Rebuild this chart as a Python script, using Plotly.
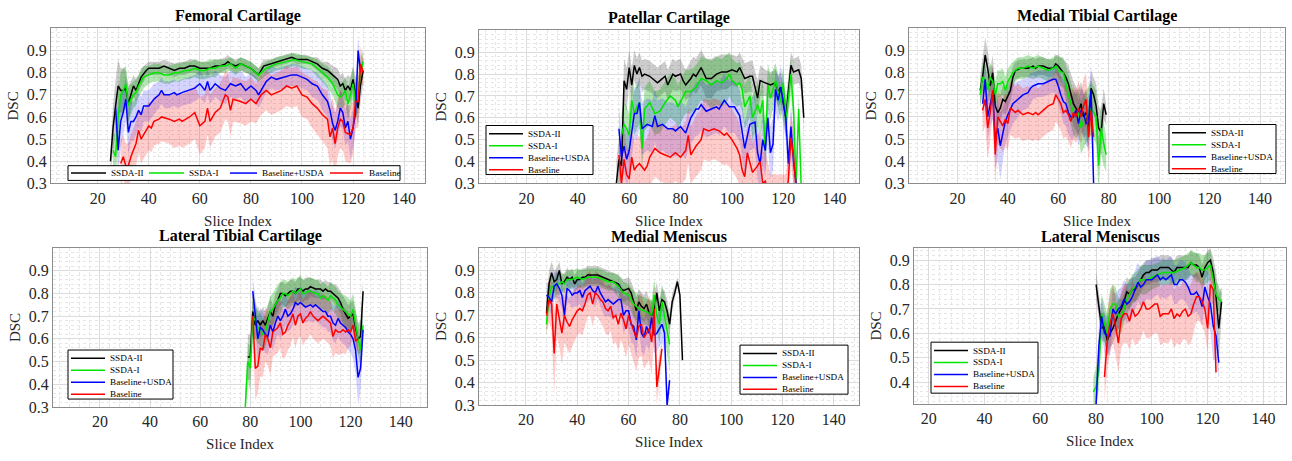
import plotly.graph_objects as go

NAMES = ["SSDA-II", "SSDA-I", "Baseline+USDA", "Baseline"]
TITLES = ["Femoral Cartilage", "Patellar Cartilage", "Medial Tibial Cartilage",
          "Lateral Tibial Cartilage", "Medial Meniscus", "Lateral Meniscus"]
X_TICKS = [20, 40, 60, 80, 100, 120, 140]
Y_TICKS = [0.3, 0.4, 0.5, 0.6, 0.7, 0.8, 0.9]

# (slice index, mean DSC, std) per series
FC_SSDA2 = [(25,.40,.05),(26,.55,.10),(27,.65,.12),(28,.74,.12),(29,.72,.10),(30,.72,.10),(31,.73,.08),(32,.66,.08),(33,.70,.06),(34,.74,.05),(35,.72,.05),(36,.75,.04),(37,.78,.04),(39,.81,.03),(40,.82,.03),(42,.82,.03),(44,.82,.03),(46,.83,.03),(48,.82,.03),(50,.81,.03),(52,.82,.03),(54,.82,.03),(56,.83,.03),(58,.83,.03),(60,.82,.03),(62,.82,.03),(64,.82,.03),(66,.83,.03),(68,.83,.03),(70,.84,.03),(71,.85,.03),(72,.84,.03),(74,.83,.03),(76,.84,.03),(78,.83,.03),(80,.82,.03),(82,.80,.03),(83,.79,.03),(85,.83,.03),(88,.84,.02),(90,.85,.02),(93,.86,.02),(96,.87,.02),(98,.86,.02),(100,.86,.02),(102,.86,.02),(104,.85,.02),(106,.84,.03),(108,.82,.03),(110,.81,.04),(112,.79,.04),(114,.77,.05),(115,.74,.05),(116,.75,.05),(117,.72,.05),(118,.74,.05),(119,.72,.06),(120,.77,.06),(121,.70,.08),(122,.64,.08),(123,.75,.08),(124,.81,.06)]
FC_SSDA1 = [(26,.45,.08),(27,.42,.10),(28,.60,.12),(29,.70,.10),(30,.72,.10),(31,.75,.08),(32,.65,.08),(33,.68,.07),(34,.70,.06),(35,.71,.06),(36,.74,.05),(38,.78,.05),(40,.79,.04),(42,.80,.04),(44,.80,.04),(46,.79,.04),(48,.79,.04),(50,.80,.04),(52,.80,.04),(54,.81,.04),(56,.81,.04),(58,.82,.04),(60,.81,.04),(62,.81,.04),(64,.82,.04),(66,.82,.04),(68,.83,.03),(70,.83,.03),(72,.84,.03),(74,.82,.03),(76,.84,.03),(78,.83,.03),(80,.82,.03),(82,.80,.03),(83,.79,.03),(86,.82,.03),(90,.84,.03),(94,.85,.03),(97,.86,.03),(100,.85,.03),(104,.84,.03),(106,.82,.04),(108,.80,.04),(110,.78,.05),(112,.75,.05),(114,.70,.06),(115,.69,.06),(116,.70,.06),(117,.72,.06),(118,.66,.07),(119,.70,.07),(120,.75,.07),(121,.67,.08),(122,.70,.08),(123,.80,.07),(124,.85,.05)]
FC_USDA = [(27,.64,.10),(28,.45,.12),(29,.58,.12),(30,.62,.10),(31,.68,.10),(32,.53,.10),(33,.58,.09),(34,.58,.09),(35,.60,.08),(36,.63,.08),(37,.61,.08),(38,.65,.07),(40,.65,.07),(42,.68,.07),(44,.70,.06),(45,.72,.06),(46,.70,.06),(48,.70,.06),(50,.71,.06),(51,.70,.06),(53,.71,.06),(56,.72,.06),(58,.73,.06),(60,.75,.06),(62,.72,.06),(63,.76,.06),(64,.72,.06),(66,.75,.06),(68,.73,.06),(70,.72,.06),(72,.75,.06),(74,.74,.06),(76,.75,.06),(78,.72,.06),(80,.74,.06),(82,.72,.06),(83,.70,.06),(86,.76,.05),(88,.78,.05),(90,.77,.05),(93,.78,.05),(96,.79,.05),(98,.79,.05),(100,.78,.05),(102,.77,.05),(104,.75,.06),(106,.74,.06),(108,.70,.07),(110,.67,.07),(111,.63,.08),(112,.57,.08),(113,.54,.08),(114,.58,.08),(115,.64,.08),(116,.62,.08),(117,.55,.08),(118,.58,.09),(119,.50,.09),(120,.55,.09),(121,.62,.09),(122,.90,.06),(123,.80,.06)]
FC_BASE = [(29,.39,.10),(30,.42,.10),(31,.38,.10),(32,.38,.10),(33,.42,.10),(34,.45,.10),(35,.48,.10),(36,.54,.10),(37,.50,.11),(38,.52,.11),(40,.56,.11),(41,.55,.11),(42,.58,.11),(44,.59,.11),(45,.60,.11),(48,.59,.11),(50,.58,.12),(52,.59,.12),(53,.58,.12),(56,.60,.12),(58,.62,.12),(60,.56,.13),(62,.58,.12),(63,.64,.12),(64,.58,.12),(66,.62,.11),(68,.64,.11),(70,.70,.11),(71,.69,.11),(72,.63,.12),(73,.68,.10),(76,.67,.10),(78,.66,.10),(80,.68,.10),(82,.66,.09),(84,.70,.09),(86,.72,.09),(88,.70,.09),(90,.71,.09),(92,.72,.09),(94,.74,.09),(96,.73,.09),(98,.74,.09),(100,.70,.10),(102,.69,.10),(104,.66,.11),(106,.64,.12),(108,.61,.12),(110,.59,.13),(111,.51,.13),(112,.55,.14),(113,.48,.14),(114,.55,.13),(115,.59,.13),(116,.58,.13),(117,.53,.13),(119,.52,.13),(120,.55,.12),(121,.67,.12),(122,.67,.12),(123,.84,.08),(124,.80,.06)]

PC_SSDA2 = [(55,.30,.10),(56,.41,.10),(57,.38,.10),(58,.77,.10),(59,.73,.10),(60,.83,.08),(61,.75,.08),(62,.84,.07),(63,.80,.07),(64,.83,.07),(65,.79,.07),(66,.80,.07),(68,.79,.07),(70,.77,.07),(71,.76,.07),(72,.77,.07),(74,.79,.07),(75,.75,.07),(77,.80,.07),(78,.79,.07),(80,.80,.07),(81,.77,.07),(82,.75,.07),(84,.78,.08),(85,.80,.08),(86,.79,.08),(88,.83,.08),(90,.78,.09),(92,.78,.09),(94,.80,.08),(96,.81,.08),(98,.81,.08),(100,.82,.07),(102,.81,.07),(103,.83,.07),(105,.78,.07),(107,.79,.07),(108,.79,.07),(110,.69,.08),(111,.77,.07),(113,.76,.06),(115,.75,.06),(117,.76,.06),(118,.72,.07),(119,.74,.07),(121,.60,.08),(123,.84,.06),(124,.81,.06),(126,.82,.06),(127,.78,.06),(128,.60,.06)]
PC_SSDA1 = [(57,.52,.10),(58,.57,.10),(59,.55,.10),(60,.52,.10),(61,.68,.10),(62,.62,.10),(63,.65,.10),(64,.67,.10),(65,.46,.10),(66,.64,.10),(68,.67,.10),(70,.62,.10),(72,.63,.10),(74,.67,.10),(76,.70,.10),(78,.68,.10),(79,.65,.10),(81,.70,.10),(82,.72,.10),(84,.72,.10),(86,.74,.10),(88,.78,.10),(90,.77,.10),(92,.75,.11),(94,.77,.11),(96,.76,.11),(98,.78,.11),(99,.80,.10),(100,.77,.10),(102,.75,.10),(103,.76,.10),(104,.73,.10),(105,.65,.10),(107,.70,.10),(108,.60,.10),(110,.66,.10),(111,.62,.10),(112,.68,.10),(113,.45,.10),(114,.75,.10),(115,.69,.10),(117,.77,.08),(118,.72,.08),(119,.67,.08),(120,.76,.08),(121,.58,.08),(123,.80,.08),(124,.64,.08),(125,.30,.06),(126,.64,.06),(127,.28,.05)]
PC_USDA = [(56,.55,.10),(57,.42,.12),(58,.47,.12),(59,.41,.12),(60,.45,.12),(62,.62,.12),(63,.62,.12),(64,.67,.12),(65,.55,.12),(67,.57,.12),(69,.56,.12),(70,.61,.12),(71,.56,.12),(73,.57,.12),(75,.55,.12),(77,.55,.12),(78,.54,.12),(80,.56,.12),(82,.53,.12),(83,.57,.12),(84,.60,.12),(86,.64,.12),(87,.64,.12),(88,.66,.12),(90,.63,.12),(92,.64,.12),(94,.65,.12),(95,.64,.12),(97,.68,.12),(99,.65,.12),(101,.65,.12),(103,.61,.12),(105,.46,.12),(107,.57,.12),(109,.58,.12),(110,.44,.12),(111,.39,.12),(112,.50,.12),(113,.45,.12),(114,.60,.12),(115,.44,.12),(116,.48,.12),(117,.73,.10),(118,.68,.10),(119,.74,.10),(121,.60,.10),(122,.39,.10),(123,.56,.10),(124,.40,.10),(125,.30,.08)]
PC_BASE = [(56,.43,.12),(57,.30,.13),(58,.41,.13),(59,.34,.13),(60,.32,.13),(61,.42,.13),(62,.36,.13),(63,.38,.13),(64,.39,.13),(66,.36,.13),(67,.38,.13),(68,.42,.13),(70,.46,.13),(72,.44,.13),(74,.43,.13),(76,.42,.13),(78,.44,.13),(80,.42,.13),(82,.45,.13),(83,.52,.13),(84,.43,.13),(86,.47,.14),(88,.50,.14),(89,.55,.14),(91,.54,.14),(93,.55,.14),(95,.54,.14),(97,.52,.14),(98,.53,.14),(100,.50,.14),(102,.46,.14),(103,.43,.14),(104,.36,.14),(105,.33,.14),(106,.44,.14),(107,.40,.14),(108,.35,.14),(110,.38,.14),(111,.40,.14),(112,.30,.14),(113,.31,.14),(115,.22,.12),(121,.22,.12),(122,.32,.12),(123,.51,.12),(124,.42,.12),(125,.28,.10)]

MT_SSDA2 = [(29,.72,.06),(30,.78,.08),(31,.88,.08),(32,.82,.08),(33,.74,.08),(34,.80,.08),(35,.65,.08),(36,.62,.07),(37,.64,.06),(38,.68,.06),(39,.67,.06),(41,.72,.05),(42,.78,.05),(43,.81,.04),(45,.82,.04),(47,.82,.04),(48,.82,.04),(50,.83,.04),(51,.82,.04),(52,.83,.04),(54,.83,.04),(56,.82,.04),(58,.82,.04),(59,.84,.04),(60,.83,.05),(62,.80,.06),(63,.78,.07),(64,.75,.08),(65,.70,.09),(66,.66,.10),(67,.64,.10),(68,.62,.10),(69,.66,.10),(70,.60,.10),(71,.62,.10),(72,.55,.10),(73,.73,.08),(74,.70,.08),(75,.65,.10),(76,.55,.10),(77,.53,.10),(78,.66,.07),(79,.61,.05)]
MT_SSDA1 = [(29,.70,.06),(30,.78,.06),(31,.77,.06),(32,.72,.06),(33,.78,.06),(34,.76,.06),(35,.70,.06),(36,.75,.06),(37,.75,.06),(38,.76,.06),(39,.72,.06),(40,.76,.06),(42,.80,.05),(44,.82,.05),(46,.82,.05),(48,.83,.05),(50,.82,.05),(52,.83,.05),(54,.82,.05),(56,.81,.05),(58,.82,.05),(59,.83,.05),(60,.81,.06),(62,.80,.07),(63,.75,.08),(64,.70,.09),(66,.62,.10),(67,.60,.10),(68,.62,.10),(69,.55,.12),(70,.58,.12),(71,.60,.12),(73,.64,.12),(74,.62,.12),(75,.60,.12),(76,.38,.12),(77,.55,.12),(78,.48,.10),(79,.43,.08)]
MT_USDA = [(30,.66,.08),(31,.77,.08),(32,.60,.10),(33,.66,.10),(34,.71,.12),(35,.50,.14),(36,.55,.14),(37,.47,.15),(38,.52,.12),(39,.58,.10),(40,.61,.10),(42,.66,.09),(44,.68,.08),(46,.70,.07),(48,.71,.07),(49,.73,.07),(50,.74,.06),(52,.75,.06),(54,.75,.06),(56,.76,.06),(58,.77,.06),(59,.77,.07),(60,.74,.08),(61,.70,.09),(62,.67,.10),(63,.66,.10),(64,.62,.10),(65,.60,.10),(66,.60,.10),(67,.63,.10),(68,.57,.10),(69,.63,.10),(70,.62,.10),(71,.57,.10),(72,.58,.12),(73,.72,.12),(74,.30,.10)]
MT_BASE = [(30,.63,.10),(31,.68,.12),(32,.55,.14),(33,.62,.12),(34,.72,.12),(35,.43,.14),(36,.60,.12),(37,.58,.12),(38,.56,.12),(39,.59,.12),(40,.57,.12),(41,.64,.12),(43,.62,.12),(44,.63,.12),(46,.61,.12),(48,.62,.12),(50,.61,.12),(51,.62,.12),(52,.61,.12),(54,.63,.12),(56,.65,.12),(58,.66,.12),(59,.70,.12),(60,.68,.12),(61,.66,.12),(62,.62,.12),(63,.63,.12),(64,.61,.12),(65,.58,.12),(66,.62,.12),(67,.60,.12),(68,.64,.12),(69,.60,.12),(70,.65,.12),(71,.68,.12),(72,.51,.12),(73,.63,.10),(74,.51,.10)]

LT_SSDA2 = [(79,.52,.10),(80,.52,.10),(81,.72,.08),(82,.66,.06),(83,.68,.06),(84,.66,.06),(85,.68,.06),(86,.66,.06),(87,.69,.06),(88,.72,.06),(89,.70,.05),(90,.75,.05),(91,.77,.05),(92,.80,.05),(93,.80,.05),(94,.79,.05),(95,.80,.05),(96,.81,.05),(97,.81,.05),(98,.80,.05),(99,.82,.05),(100,.82,.05),(101,.81,.05),(102,.82,.05),(103,.82,.05),(104,.83,.04),(106,.82,.04),(108,.82,.04),(109,.81,.04),(110,.82,.04),(111,.81,.04),(112,.81,.04),(113,.80,.04),(114,.79,.05),(115,.78,.05),(116,.76,.05),(117,.73,.06),(118,.71,.06),(119,.69,.06),(120,.70,.06),(121,.71,.06),(122,.65,.07),(123,.60,.07),(124,.61,.07),(125,.81,.05)]
LT_SSDA1 = [(78,.30,.06),(79,.50,.08),(80,.47,.10),(81,.70,.10),(82,.68,.08),(83,.65,.07),(84,.64,.07),(85,.62,.07),(86,.63,.07),(87,.67,.07),(88,.72,.07),(89,.73,.07),(90,.75,.07),(91,.77,.07),(92,.78,.07),(93,.80,.06),(94,.80,.06),(95,.79,.06),(96,.80,.06),(97,.81,.06),(98,.80,.06),(99,.81,.06),(100,.82,.06),(101,.80,.06),(102,.80,.06),(103,.81,.06),(104,.81,.06),(106,.80,.06),(107,.80,.06),(108,.78,.06),(109,.79,.06),(110,.78,.06),(111,.77,.06),(112,.79,.06),(113,.78,.06),(114,.77,.06),(115,.75,.06),(116,.74,.06),(118,.72,.07),(120,.70,.07),(121,.73,.07),(122,.66,.07),(123,.60,.07),(124,.55,.07),(125,.66,.05)]
LT_USDA = [(81,.81,.06),(82,.70,.08),(83,.60,.10),(84,.65,.08),(85,.64,.08),(86,.62,.08),(87,.61,.08),(88,.66,.08),(89,.63,.08),(90,.67,.08),(91,.70,.08),(92,.68,.08),(93,.70,.08),(94,.73,.07),(95,.70,.07),(96,.71,.07),(97,.73,.07),(98,.76,.07),(99,.75,.07),(100,.76,.07),(101,.75,.07),(102,.74,.07),(104,.75,.07),(105,.74,.07),(106,.75,.07),(108,.73,.07),(109,.72,.07),(110,.72,.07),(111,.70,.07),(112,.70,.07),(113,.67,.08),(114,.66,.08),(115,.69,.08),(116,.67,.08),(117,.66,.08),(118,.65,.08),(119,.63,.08),(120,.62,.08),(121,.60,.09),(122,.55,.10),(123,.43,.12),(124,.47,.10),(125,.64,.06)]
LT_BASE = [(81,.70,.10),(82,.47,.14),(83,.48,.12),(84,.56,.12),(85,.55,.12),(86,.62,.12),(87,.60,.12),(88,.56,.12),(89,.63,.11),(90,.64,.11),(91,.65,.11),(92,.67,.11),(93,.62,.11),(94,.63,.11),(95,.66,.11),(96,.68,.11),(97,.71,.10),(98,.66,.10),(99,.70,.10),(100,.71,.10),(101,.67,.10),(102,.69,.10),(103,.70,.10),(104,.72,.10),(105,.70,.10),(106,.69,.10),(107,.68,.10),(108,.69,.10),(109,.70,.10),(110,.69,.10),(111,.68,.10),(112,.67,.10),(113,.61,.10),(114,.64,.10),(115,.63,.10),(116,.63,.10),(117,.64,.10),(118,.63,.10),(119,.64,.08),(120,.63,.06),(121,.66,.05),(122,.59,.05),(123,.60,.04)]

MM_SSDA2 = [(28,.71,.06),(29,.84,.06),(30,.89,.05),(31,.85,.05),(32,.86,.05),(33,.90,.04),(34,.84,.04),(35,.85,.04),(36,.87,.04),(37,.86,.04),(38,.87,.04),(39,.84,.04),(40,.86,.04),(41,.86,.04),(42,.87,.04),(43,.87,.04),(44,.88,.04),(46,.88,.04),(48,.88,.04),(50,.87,.04),(52,.86,.04),(54,.85,.04),(56,.84,.04),(57,.82,.05),(58,.81,.05),(60,.82,.05),(61,.80,.05),(62,.76,.06),(63,.72,.06),(64,.76,.06),(65,.74,.06),(66,.73,.06),(67,.75,.06),(68,.71,.06),(69,.70,.06),(70,.72,.06),(71,.80,.05),(72,.72,.05),(73,.77,.05),(74,.76,.05),(75,.72,.05),(76,.66,.05),(77,.76,.04),(78,.80,.03),(79,.85,.02),(80,.79,.02),(81,.50,.02)]
MM_SSDA1 = [(28,.66,.05),(29,.78,.05),(30,.83,.05),(31,.82,.05),(32,.84,.05),(33,.84,.05),(34,.85,.04),(35,.84,.04),(36,.86,.04),(38,.86,.04),(40,.87,.04),(42,.86,.04),(44,.87,.04),(46,.87,.04),(48,.87,.04),(50,.86,.04),(52,.85,.04),(54,.85,.04),(56,.83,.05),(58,.80,.05),(60,.79,.05),(62,.75,.06),(64,.73,.06),(66,.72,.06),(68,.71,.06),(69,.70,.07),(70,.79,.07),(71,.70,.07),(72,.66,.08),(73,.76,.08),(74,.70,.09),(75,.63,.10),(76,.57,.12)]
MM_USDA = [(28,.79,.06),(29,.78,.06),(30,.76,.06),(31,.83,.06),(32,.84,.06),(33,.82,.06),(34,.79,.06),(35,.70,.07),(36,.82,.06),(37,.81,.06),(38,.79,.06),(39,.80,.06),(40,.80,.06),(41,.81,.06),(42,.78,.06),(43,.81,.06),(44,.82,.06),(45,.83,.06),(46,.81,.06),(47,.80,.06),(48,.83,.06),(49,.80,.06),(50,.78,.07),(51,.76,.07),(52,.77,.07),(53,.76,.07),(54,.75,.07),(55,.76,.07),(56,.77,.07),(57,.77,.07),(58,.70,.08),(59,.72,.08),(60,.72,.08),(61,.66,.08),(62,.65,.08),(63,.59,.08),(64,.72,.08),(65,.62,.08),(66,.60,.08),(67,.65,.08),(68,.62,.08),(69,.69,.08),(70,.61,.08),(71,.62,.08),(72,.64,.08),(73,.66,.08),(74,.62,.08),(75,.30,.06),(76,.41,.04)]
MM_BASE = [(28,.70,.08),(29,.77,.10),(30,.75,.12),(31,.53,.18),(32,.75,.14),(33,.68,.12),(34,.62,.14),(35,.70,.12),(36,.67,.12),(37,.65,.12),(38,.68,.12),(40,.72,.11),(41,.73,.11),(42,.72,.11),(43,.75,.10),(44,.79,.10),(45,.80,.10),(46,.75,.10),(47,.80,.10),(48,.79,.10),(49,.77,.10),(50,.76,.11),(51,.73,.11),(52,.72,.11),(53,.74,.11),(54,.69,.12),(55,.70,.12),(56,.66,.12),(57,.71,.12),(58,.68,.12),(59,.64,.13),(60,.70,.13),(61,.66,.13),(62,.63,.14),(63,.60,.15),(64,.65,.14),(65,.66,.14),(66,.60,.14),(67,.62,.14),(68,.64,.14),(69,.58,.15),(70,.73,.10),(71,.38,.08),(72,.46,.06),(73,.55,.04)]

LM_SSDA2 = [(80,.80,.06),(81,.72,.06),(82,.62,.06),(83,.63,.06),(84,.57,.06),(85,.60,.06),(86,.62,.06),(87,.65,.06),(88,.68,.06),(89,.70,.06),(90,.73,.06),(91,.77,.06),(92,.76,.06),(93,.78,.05),(94,.78,.05),(95,.80,.05),(96,.82,.05),(97,.84,.05),(98,.85,.05),(99,.85,.05),(100,.86,.05),(102,.86,.05),(103,.87,.05),(105,.87,.05),(106,.87,.05),(107,.86,.05),(108,.85,.05),(109,.87,.05),(110,.87,.05),(112,.87,.05),(113,.87,.05),(114,.89,.05),(115,.88,.05),(116,.88,.05),(117,.87,.05),(118,.83,.05),(119,.87,.05),(120,.89,.05),(121,.90,.05),(122,.85,.06),(123,.75,.10),(124,.62,.14),(125,.73,.06)]
LM_SSDA1 = [(79,.36,.06),(80,.38,.08),(81,.45,.08),(82,.68,.08),(83,.64,.08),(84,.60,.08),(85,.70,.08),(86,.72,.08),(87,.72,.07),(88,.67,.07),(89,.67,.07),(90,.70,.06),(91,.74,.06),(92,.76,.06),(93,.78,.06),(94,.79,.06),(95,.80,.06),(96,.82,.06),(97,.82,.06),(98,.82,.06),(100,.83,.05),(102,.84,.05),(104,.85,.05),(106,.85,.05),(108,.85,.05),(110,.86,.05),(112,.87,.05),(114,.89,.05),(116,.87,.06),(117,.87,.06),(118,.86,.06),(119,.86,.06),(120,.87,.06),(121,.88,.06),(122,.82,.06),(123,.76,.06),(124,.74,.05),(125,.73,.04)]
LM_USDA = [(80,.31,.08),(81,.55,.08),(82,.67,.08),(83,.60,.08),(84,.59,.08),(85,.59,.08),(86,.70,.08),(87,.68,.08),(88,.70,.08),(89,.71,.08),(90,.74,.08),(91,.72,.08),(92,.73,.08),(93,.75,.08),(94,.78,.08),(95,.81,.08),(96,.79,.08),(97,.80,.08),(98,.82,.08),(99,.82,.08),(100,.82,.08),(101,.83,.08),(102,.84,.08),(103,.82,.08),(104,.83,.08),(105,.82,.08),(106,.83,.08),(107,.84,.08),(108,.80,.08),(109,.80,.08),(110,.82,.08),(111,.82,.08),(112,.81,.08),(113,.79,.08),(114,.76,.08),(115,.76,.08),(116,.77,.08),(117,.75,.08),(118,.71,.08),(119,.79,.08),(120,.75,.10),(121,.72,.12),(122,.63,.14),(123,.59,.10),(124,.48,.06)]
LM_BASE = [(83,.42,.10),(84,.57,.12),(85,.64,.12),(86,.68,.12),(87,.63,.12),(88,.56,.12),(89,.66,.12),(90,.68,.12),(91,.68,.12),(92,.65,.12),(93,.70,.12),(94,.67,.12),(95,.68,.12),(96,.70,.12),(97,.73,.12),(98,.70,.12),(99,.70,.12),(101,.72,.12),(102,.72,.12),(103,.67,.12),(104,.68,.12),(106,.68,.12),(107,.70,.12),(108,.66,.12),(109,.68,.12),(110,.67,.12),(111,.69,.12),(112,.70,.12),(113,.67,.12),(114,.68,.12),(115,.72,.12),(116,.75,.10),(117,.75,.10),(118,.73,.10),(119,.70,.10),(120,.62,.10),(121,.80,.08),(122,.78,.06),(123,.44,.04)]

PANEL_SERIES = [
    [FC_SSDA2, FC_SSDA1, FC_USDA, FC_BASE],
    [PC_SSDA2, PC_SSDA1, PC_USDA, PC_BASE],
    [MT_SSDA2, MT_SSDA1, MT_USDA, MT_BASE],
    [LT_SSDA2, LT_SSDA1, LT_USDA, LT_BASE],
    [MM_SSDA2, MM_SSDA1, MM_USDA, MM_BASE],
    [LM_SSDA2, LM_SSDA1, LM_USDA, LM_BASE],
]

# ---------------- styling / layout ----------------
W, H = 1292, 461
FONT = "Liberation Serif, Times New Roman, serif"
LINE_COLORS = ["#000000", "#00e600", "#0000ff", "#ff0000"]
BAND_COLORS = ["rgba(0,0,0,0.20)", "rgba(0,170,0,0.30)", "rgba(0,0,255,0.17)", "rgba(255,0,0,0.20)"]

# plot-area boxes in pixels: (left, right, top, bottom)
BOXES = [(51, 425, 29, 187), (479, 859, 31, 187), (909, 1285, 29, 187),
         (53, 427, 253, 415), (479, 859, 253, 413), (914, 1286, 253, 412)]
XRANGES = [(1.7, 148.2), (1.5, 149.5), (0.8, 149.9), (1.3, 150.5), (1.7, 149.8), (14.7, 148.1)]
YRANGES = [(0.3, 1.0)] * 5 + [(0.31, 0.95)]

# legend boxes in pixels: (left, top, width, height, horizontal?)
LEG_BOX = [(68, 169, 332, 15, True), (486, 128, 107, 50, False), (1169, 127, 107, 50, False),
           (68, 357, 105, 50, False), (740, 352, 108, 50, False), (931, 349, 107, 52, False)]
H_LINE_X = [(3, 38), (81, 116), (162, 189), (262, 295)]   # horizontal legend sample offsets
H_TEXT_X = [41, 119, 192, 299]
V_ROW0, V_ROWSTEP = 8.5, 12.2
V_LINE = (3, 37)
V_TEXT = 40
LEG_FONT = 9.2
TITLE_FONT = 16

def px(xp):
    return xp / W

def py(yp):
    return 1 - yp / H

fig = go.Figure()
annotations = []
shapes = []
layout = dict(width=W, height=H, margin=dict(l=0, r=0, t=0, b=0),
              paper_bgcolor="white", plot_bgcolor="white",
              font=dict(family=FONT, color="#262626"), showlegend=False)

for p in range(6):
    sfx = "" if p == 0 else str(p + 1)
    xa, ya = "x" + sfx, "y" + sfx
    series = PANEL_SERIES[p]
    for s, data in enumerate(series):
        xs = [d[0] for d in data]
        m = [d[1] for d in data]
        sd = [d[2] for d in data]
        hi = [a + b for a, b in zip(m, sd)]
        lo = [a - b for a, b in zip(m, sd)]
        fig.add_trace(go.Scatter(x=xs + xs[::-1], y=hi + lo[::-1], fill="toself",
                                 fillcolor=BAND_COLORS[s], line=dict(width=0),
                                 mode="lines", hoverinfo="skip", showlegend=False,
                                 xaxis=xa, yaxis=ya))
    for s, data in enumerate(series):
        xs = [d[0] for d in data]
        m = [d[1] for d in data]
        fig.add_trace(go.Scatter(x=xs, y=m, mode="lines", name=NAMES[s],
                                 line=dict(color=LINE_COLORS[s], width=1.5),
                                 showlegend=False, xaxis=xa, yaxis=ya))
    l, r, t, b = BOXES[p]
    axcommon = dict(showline=True, mirror=True, linecolor="#8c8c8c", linewidth=1,
                    showgrid=True, gridcolor="#dcdcdc", gridwidth=1, zeroline=False,
                    ticks="", tickfont=dict(size=16, family=FONT, color="#262626"))
    layout["xaxis" + sfx] = dict(axcommon, domain=[l / W, r / W], range=list(XRANGES[p]),
                                 anchor=ya, tickmode="array", tickvals=X_TICKS,
                                 minor=dict(dtick=4, tick0=0, showgrid=True, gridcolor="#e6e6e6",
                                            griddash="dot", gridwidth=1),
                                 title=dict(text="Slice Index", font=dict(size=15, family=FONT, color="#262626"),
                                            standoff=9))
    layout["yaxis" + sfx] = dict(axcommon, domain=[1 - b / H, 1 - t / H], range=list(YRANGES[p]),
                                 anchor=xa, tickmode="array", tickvals=Y_TICKS, tickformat=".1f",
                                 minor=dict(dtick=0.02, tick0=0, showgrid=True, gridcolor="#e6e6e6",
                                            griddash="dot", gridwidth=1),
                                 title=dict(text="DSC", font=dict(size=15, family=FONT, color="#262626"),
                                            standoff=4))
    annotations.append(dict(text="<b>" + TITLES[p] + "</b>", x=(l + r) / 2 / W, y=1 - t / H,
                            xref="paper", yref="paper", xanchor="center", yanchor="bottom",
                            yshift=1, showarrow=False,
                            font=dict(size=TITLE_FONT, family=FONT, color="#000000")))

    # legend box
    lx, lt, lw, lh, horiz = LEG_BOX[p]
    shapes.append(dict(type="rect", xref="paper", yref="paper", x0=px(lx), x1=px(lx + lw),
                       y0=py(lt + lh), y1=py(lt), fillcolor="white",
                       line=dict(color="#000000", width=1), layer="above"))
    for s in range(4):
        if horiz:
            yc = lt + lh / 2
            x0, x1 = lx + H_LINE_X[s][0], lx + H_LINE_X[s][1]
            tx = lx + H_TEXT_X[s]
        else:
            yc = lt + V_ROW0 + V_ROWSTEP * s
            x0, x1 = lx + V_LINE[0], lx + V_LINE[1]
            tx = lx + V_TEXT
        shapes.append(dict(type="line", xref="paper", yref="paper", x0=px(x0), x1=px(x1),
                           y0=py(yc), y1=py(yc), line=dict(color=LINE_COLORS[s], width=1.5),
                           layer="above"))
        annotations.append(dict(text=NAMES[s], x=px(tx), y=py(yc), xref="paper", yref="paper",
                                xanchor="left", yanchor="middle", showarrow=False,
                                font=dict(size=LEG_FONT, family=FONT, color="#000000")))

layout["annotations"] = annotations
layout["shapes"] = shapes
fig.update_layout(**layout)
fig.write_html("out.html")
